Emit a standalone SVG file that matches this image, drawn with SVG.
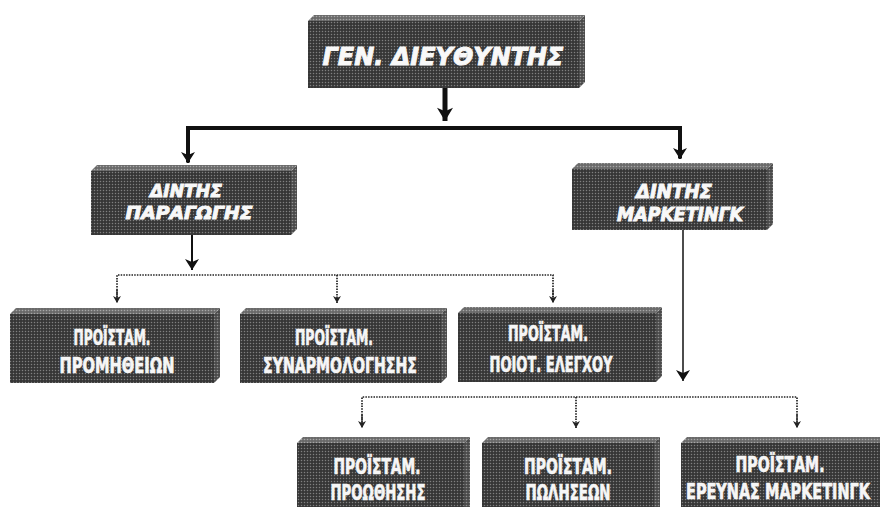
<svg xmlns="http://www.w3.org/2000/svg" width="880" height="507" viewBox="0 0 880 507">
<defs>
<pattern id="ht" width="3" height="3" patternUnits="userSpaceOnUse">
<rect width="3" height="3" fill="#363636"/>
<circle cx="1.5" cy="1.5" r="0.75" fill="#808080"/>
</pattern>
<pattern id="htTop" width="3" height="3" patternUnits="userSpaceOnUse">
<rect width="3" height="3" fill="#6a6a6a"/>
<circle cx="1.5" cy="1.5" r="0.8" fill="#a8a8a8"/>
</pattern>
<pattern id="htSide" width="3" height="3" patternUnits="userSpaceOnUse">
<rect width="3" height="3" fill="#4a4a4a"/>
<circle cx="1.5" cy="1.5" r="0.8" fill="#909090"/>
</pattern>
<marker id="bigArrow" markerUnits="userSpaceOnUse" markerWidth="20" markerHeight="16" refX="15" refY="9" orient="auto" viewBox="0 0 16 18">
<path d="M0,0 L15,9 L0,18 L4,9 Z" fill="#111"/>
</marker>
<marker id="midArrow" markerUnits="userSpaceOnUse" markerWidth="12" markerHeight="14" refX="11" refY="7" orient="auto" viewBox="0 0 12 14">
<path d="M0,0 L11,7 L0,14 L3,7 Z" fill="#111"/>
</marker>
<marker id="smallArrow" markerUnits="userSpaceOnUse" markerWidth="8" markerHeight="8" refX="7" refY="4" orient="auto" viewBox="0 0 8 8">
<path d="M0,0 L7,4 L0,8 L2,4 Z" fill="#222"/>
</marker>
</defs>
<style>
.front{fill:url(#ht);}
.top{fill:url(#htTop);}
.side{fill:url(#htSide);}
.t1{font-family:"DejaVu Sans","Liberation Sans",sans-serif;font-weight:bold;font-style:italic;fill:#f8f8f8;stroke:#f8f8f8;stroke-width:1;text-anchor:middle;}
.t2{font-family:"DejaVu Sans Condensed","DejaVu Sans","Liberation Sans",sans-serif;font-weight:bold;fill:#f6f6f6;stroke:#f6f6f6;stroke-width:0.7;text-anchor:middle;}
.solid{fill:none;stroke:#111;}
.dot{fill:none;stroke:#222;stroke-width:1.7;stroke-dasharray:1.5 1.2;}
</style>
<rect width="880" height="507" fill="#ffffff"/>

<g id="connectors">
<line class="solid" x1="445" y1="88" x2="445" y2="121" stroke-width="5" marker-end="url(#bigArrow)"/>
<polyline class="solid" points="188,162 188,128 680,128 680,158" stroke-width="4" stroke-linejoin="miter"/>
<line class="solid" x1="188" y1="150" x2="188" y2="163" stroke-width="3" marker-end="url(#midArrow)"/>
<line class="solid" x1="680" y1="146" x2="680" y2="159" stroke-width="3" marker-end="url(#midArrow)"/>
<line class="solid" x1="192" y1="235" x2="192" y2="270" stroke-width="2" marker-end="url(#midArrow)"/>
<line class="solid" x1="683" y1="230" x2="683" y2="381" stroke-width="1.5" marker-end="url(#midArrow)"/>
<polyline class="dot" points="117,301 117,275 553,275 553,301"/>
<line class="dot" x1="117" y1="290" x2="117" y2="303" marker-end="url(#smallArrow)"/>
<line class="dot" x1="337" y1="275" x2="337" y2="303" marker-end="url(#smallArrow)"/>
<line class="dot" x1="553" y1="290" x2="553" y2="303" marker-end="url(#smallArrow)"/>
<polyline class="dot" points="362,426 362,397 797,397 797,426"/>
<line class="dot" x1="362" y1="415" x2="362" y2="428" marker-end="url(#smallArrow)"/>
<line class="dot" x1="576" y1="397" x2="576" y2="428" marker-end="url(#smallArrow)"/>
<line class="dot" x1="797" y1="415" x2="797" y2="428" marker-end="url(#smallArrow)"/>
</g>

<g id="gen-dieythyntis">
<rect class="front" x="308" y="21" width="271" height="67"/>
<polygon class="top" points="308,21 314,15 585,15 579,21"/>
<polygon class="side" points="579,21 585,15 585,82 579,88"/>
<text class="t1" x="443" y="65" font-size="25" textLength="241" lengthAdjust="spacingAndGlyphs">ΓΕΝ. ΔΙΕΥΘΥΝΤΗΣ</text>
</g>

<g id="dintis-paragogis">
<rect class="front" x="91" y="171" width="200" height="64"/>
<polygon class="top" points="91,171 97,165 297,165 291,171"/>
<polygon class="side" points="291,171 297,165 297,229 291,235"/>
<text class="t1" x="186" y="197" font-size="18" textLength="72" lengthAdjust="spacingAndGlyphs">ΔΙΝΤΗΣ</text>
<text class="t1" x="189" y="219" font-size="18" textLength="127" lengthAdjust="spacingAndGlyphs">ΠΑΡΑΓΩΓΗΣ</text>
</g>

<g id="dintis-marketingk">
<rect class="front" x="572" y="169" width="195" height="61"/>
<polygon class="top" points="572,169 578,163 773,163 767,169"/>
<polygon class="side" points="767,169 773,163 773,224 767,230"/>
<text class="t1" x="674" y="198" font-size="19" textLength="76" lengthAdjust="spacingAndGlyphs">ΔΙΝΤΗΣ</text>
<text class="t1" x="680" y="221" font-size="19" textLength="126" lengthAdjust="spacingAndGlyphs">ΜΑΡΚΕΤΙΝΓΚ</text>
</g>

<g id="proistam-promitheion">
<rect class="front" x="10" y="314" width="204" height="69"/>
<polygon class="top" points="10,314 16,308 220,308 214,314"/>
<polygon class="side" points="214,314 220,308 220,377 214,383"/>
<text class="t2" x="112" y="345" font-size="22" textLength="77" lengthAdjust="spacingAndGlyphs">ΠΡΟΪΣΤΑΜ.</text>
<text class="t2" x="117" y="373" font-size="22" textLength="115" lengthAdjust="spacingAndGlyphs">ΠΡΟΜΗΘΕΙΩΝ</text>
</g>

<g id="proistam-synarmologisis">
<rect class="front" x="240" y="314" width="201" height="69"/>
<polygon class="top" points="240,314 246,308 447,308 441,314"/>
<polygon class="side" points="441,314 447,308 447,377 441,383"/>
<text class="t2" x="334" y="345" font-size="22" textLength="78" lengthAdjust="spacingAndGlyphs">ΠΡΟΪΣΤΑΜ.</text>
<text class="t2" x="340" y="373" font-size="22" textLength="154" lengthAdjust="spacingAndGlyphs">ΣΥΝΑΡΜΟΛΟΓΗΣΗΣ</text>
</g>

<g id="proistam-poiot-elegxou">
<rect class="front" x="458" y="313" width="198" height="69"/>
<polygon class="top" points="458,313 464,307 662,307 656,313"/>
<polygon class="side" points="656,313 662,307 662,376 656,382"/>
<text class="t2" x="548" y="341" font-size="22" textLength="80" lengthAdjust="spacingAndGlyphs">ΠΡΟΪΣΤΑΜ.</text>
<text class="t2" x="551" y="372" font-size="22" textLength="123" lengthAdjust="spacingAndGlyphs">ΠΟΙΟΤ. ΕΛΕΓΧΟΥ</text>
</g>

<g id="proistam-proothisis">
<rect class="front" x="297" y="443" width="167" height="64"/>
<polygon class="top" points="297,443 303,437 470,437 464,443"/>
<polygon class="side" points="464,443 470,437 470,507 464,507"/>
<text class="t2" x="377" y="474" font-size="22" textLength="87" lengthAdjust="spacingAndGlyphs">ΠΡΟΪΣΤΑΜ.</text>
<text class="t2" x="378" y="500" font-size="22" textLength="95" lengthAdjust="spacingAndGlyphs">ΠΡΟΩΘΗΣΗΣ</text>
</g>

<g id="proistam-poliseon">
<rect class="front" x="482" y="443" width="172" height="64"/>
<polygon class="top" points="482,443 488,437 660,437 654,443"/>
<polygon class="side" points="654,443 660,437 660,507 654,507"/>
<text class="t2" x="568" y="474" font-size="22" textLength="88" lengthAdjust="spacingAndGlyphs">ΠΡΟΪΣΤΑΜ.</text>
<text class="t2" x="568" y="500" font-size="22" textLength="85" lengthAdjust="spacingAndGlyphs">ΠΩΛΗΣΕΩΝ</text>
</g>

<g id="proistam-erevnas-marketingk">
<rect class="front" x="681" y="443" width="199" height="64"/>
<polygon class="top" points="681,443 687,437 880,437 880,443"/>
<text class="t2" x="780" y="472" font-size="22" textLength="89" lengthAdjust="spacingAndGlyphs">ΠΡΟΪΣΤΑΜ.</text>
<text class="t2" transform="translate(778,499) scale(0.65,1)" x="0" y="0" font-size="22" textLength="283" lengthAdjust="spacingAndGlyphs">ΕΡΕΥΝΑΣ ΜΑΡΚΕΤΙΝΓΚ</text>
</g>
</svg>
